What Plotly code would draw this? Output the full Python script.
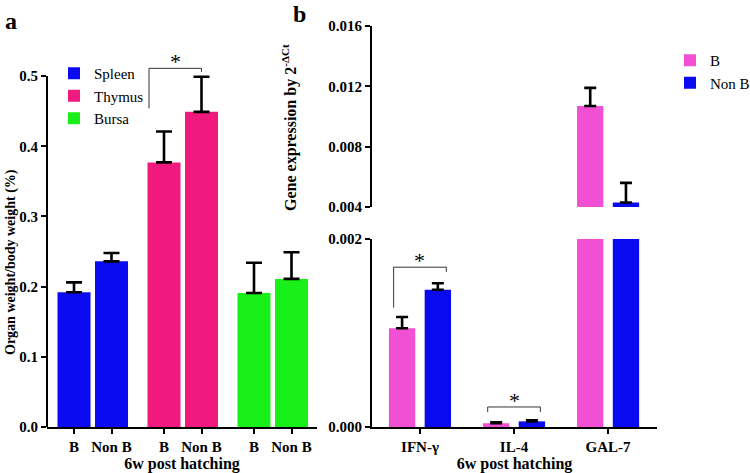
import plotly.graph_objects as go

# ---------------- data ----------------
organs = ["Spleen", "Thymus", "Bursa"]
groups_a = ["B", "Non B"]
spleen_vals = [0.192, 0.236]
spleen_err = [0.014, 0.012]
thymus_vals = [0.377, 0.449]
thymus_err = [0.044, 0.050]
bursa_vals = [0.191, 0.211]
bursa_err = [0.043, 0.038]

genes = ["IFN-γ", "IL-4", "GAL-7"]
groups_b = ["B", "Non B"]
b_vals = [0.00105, 0.00004, 0.0107]
b_err = [0.00012, 0.00001, 0.0012]
nonb_vals = [0.00146, 0.00006, 0.0043]
nonb_err = [0.00007, 0.00001, 0.0013]

ya_ticks = [0.0, 0.1, 0.2, 0.3, 0.4, 0.5]
yb_low_ticks = [0.000, 0.002]
yb_high_ticks = [0.004, 0.008, 0.012, 0.016]

# ---------------- style ----------------
FONT = "Liberation Serif"
organ_colors = ["#0B0BF2", "#F0197D", "#19F019"]
gene_colors = ["#F250D4", "#0A0AF0"]
W, H = 750, 473

def px_x(p):
    return p / W

def px_y(p):
    return 1 - p / H

fig = go.Figure()

# ---------- panel a ----------
group_step = 2.4
bar_w_a = 0.88
organ_data = [(spleen_vals, spleen_err), (thymus_vals, thymus_err), (bursa_vals, bursa_err)]
pos_a = []
for g, (name, (vals, errs)) in enumerate(zip(organs, organ_data)):
    xs = [g * group_step + j for j in range(len(groups_a))]
    pos_a.extend(xs)
    fig.add_trace(go.Bar(
        x=xs, y=vals, width=bar_w_a, name=name,
        marker=dict(color=organ_colors[g], line=dict(width=0)),
        error_y=dict(type="data", array=errs, arrayminus=[0] * len(errs), symmetric=False,
                     color="black", thickness=2.6, width=8),
        xaxis="x", yaxis="y", legend="legend",
    ))

# significance bracket, panel a (Thymus B vs Non B)
tb, tn = 1 * group_step, 1 * group_step + 1
fig.add_trace(go.Scatter(
    x=[tb - 0.4, tb - 0.4, tn, tn], y=[0.454, 0.511, 0.511, 0.506],
    mode="lines", line=dict(color="#333333", width=1), showlegend=False,
    hoverinfo="skip", xaxis="x", yaxis="y",
))
fig.add_annotation(x=(tb - 0.4 + tn) / 2, y=0.511, xref="x", yref="y", text="*",
                   showarrow=False, yanchor="bottom", yshift=-8,
                   font=dict(family=FONT, size=22, color="black"))

# ---------- panel b ----------
off_b = 0.19
bar_w_b = 0.28
for k, (name, vals, errs) in enumerate(zip(groups_b, [b_vals, nonb_vals], [b_err, nonb_err])):
    xs = [i + (2 * k - 1) * off_b for i in range(len(genes))]
    for ya, show in (("y2", True), ("y3", False)):
        fig.add_trace(go.Bar(
            x=xs, y=vals, width=bar_w_b, name=name,
            marker=dict(color=gene_colors[k], line=dict(width=0)),
            error_y=dict(type="data", array=errs, arrayminus=[0] * len(errs), symmetric=False,
                         color="black", thickness=2.6, width=6),
            xaxis="x2" if ya == "y2" else "x3", yaxis=ya, legend="legend2",
            showlegend=show, legendgroup=name,
        ))

# brackets panel b
brackets_b = [(0, 0.00127, 0.00170, 0.00165), (1, 0.00016, 0.000213, 0.00016)]
for gi, yl, yt, yr in brackets_b:
    x0, x1 = gi - off_b - 0.09, gi + off_b + 0.09
    fig.add_trace(go.Scatter(
        x=[x0, x0, x1, x1], y=[yl, yt, yt, yr], mode="lines",
        line=dict(color="#333333", width=1), showlegend=False, hoverinfo="skip",
        xaxis="x2", yaxis="y2",
    ))
    fig.add_annotation(x=(x0 + x1) / 2, y=yt, xref="x2", yref="y2", text="*",
                       showarrow=False, yanchor="bottom", yshift=-8,
                       font=dict(family=FONT, size=22, color="black"))

# ---------------- axes ----------------
tickfont = dict(family=FONT, size=15, color="black", weight="bold")
axcommon = dict(showgrid=False, zeroline=False, ticks="outside", ticklen=5,
                tickwidth=2, tickcolor="black", tickfont=tickfont, automargin=False)
xtitle_font = dict(family=FONT, size=16, color="black", weight="bold")

ya_dom = [px_y(427), px_y(55)]
fig.update_layout(
    xaxis=dict(domain=[px_x(47), px_x(317)], range=[-0.72, 6.48], anchor="y",
               tickvals=pos_a, ticktext=groups_a * len(organs),
               showline=True, linecolor="black", linewidth=2,
               title=dict(text="6w post hatching", standoff=4, font=xtitle_font),
               **axcommon),
    yaxis=dict(domain=ya_dom, range=[0, 0.53], anchor="x", tickvals=ya_ticks,
               tickformat=".1f", showline=False, **axcommon),
    xaxis2=dict(domain=[px_x(372), px_x(657)], range=[-0.51, 2.52], anchor="y2",
                tickvals=list(range(len(genes))), ticktext=genes,
                showline=True, linecolor="black", linewidth=2,
                title=dict(text="6w post hatching", standoff=4, font=xtitle_font),
                **axcommon),
    yaxis2=dict(domain=[px_y(427), px_y(239)], range=[0, 0.002], anchor="x2",
                tickvals=yb_low_ticks, tickformat=".3f",
                showline=True, linecolor="black", linewidth=2, **axcommon),
    xaxis3=dict(domain=[px_x(372), px_x(657)], range=[-0.51, 2.52], anchor="y3",
                visible=False, matches="x2", automargin=False),
    yaxis3=dict(domain=[px_y(207), px_y(26)], range=[0.004, 0.016], anchor="x3",
                tickvals=yb_high_ticks, tickformat=".3f",
                showline=True, linecolor="black", linewidth=2, **axcommon),
)

# y-axis line for panel a (stops at 0.5)
fig.add_shape(type="line", xref="x domain", yref="y", x0=0, x1=0, y0=0, y1=ya_ticks[-1],
              line=dict(color="black", width=2))

# y-axis titles
fig.add_annotation(x=px_x(11), y=px_y(262), xref="paper", yref="paper",
                   xanchor="center", yanchor="middle",
                   text="Organ weight/body weight (%)", textangle=-90,
                   showarrow=False, font=dict(family=FONT, size=14, color="black", weight="bold"))
fig.add_annotation(x=px_x(290), y=px_y(128), xref="paper", yref="paper",
                   xanchor="center", yanchor="middle",
                   text="Gene expression by 2<sup>-ΔCt</sup>", textangle=-90,
                   showarrow=False, font=dict(family=FONT, size=16, color="black", weight="bold"))

# panel letters
fig.add_annotation(x=px_x(11), y=px_y(21), xref="paper", yref="paper", text="a",
                   xanchor="center", yanchor="middle",
                   showarrow=False, font=dict(family=FONT, size=24, color="black", weight="bold"))
fig.add_annotation(x=px_x(299), y=px_y(14), xref="paper", yref="paper", text="b",
                   xanchor="center", yanchor="middle",
                   showarrow=False, font=dict(family=FONT, size=24, color="black", weight="bold"))

fig.update_layout(
    width=W, height=H, margin=dict(l=0, r=0, t=0, b=0, autoexpand=False),
    plot_bgcolor="white", paper_bgcolor="white", barmode="overlay",
    font=dict(family=FONT, color="black"),
    legend=dict(x=px_x(54), y=px_y(57), xanchor="left", yanchor="top",
                font=dict(family=FONT, size=15, color="black"),
                bgcolor="rgba(0,0,0,0)", tracegroupgap=0, itemsizing="constant"),
    legend2=dict(x=px_x(670), y=px_y(44), xanchor="left", yanchor="top",
                 font=dict(family=FONT, size=15, color="black"),
                 bgcolor="rgba(0,0,0,0)", tracegroupgap=0),
)

fig.write_html("out.html", post_script="document.body.style.margin='0';",
               config={"displayModeBar": False})
